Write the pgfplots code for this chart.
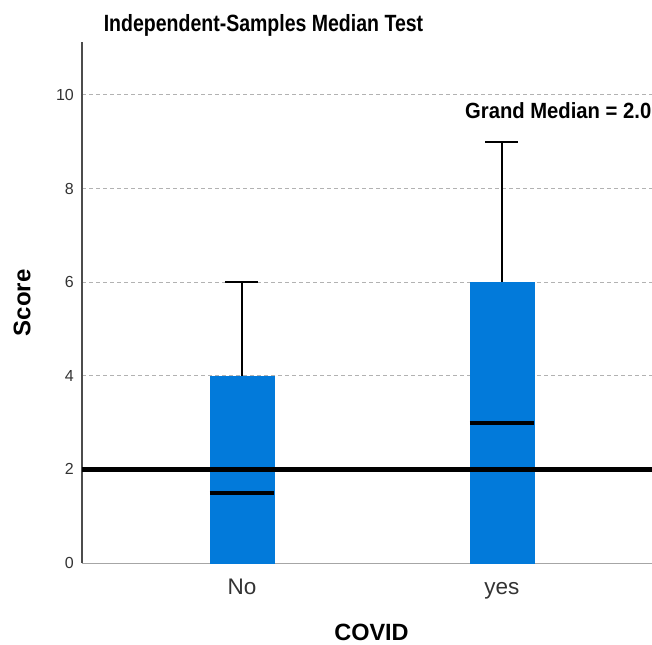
\documentclass[border=0pt]{standalone}
\usepackage{fontspec}
\setmainfont{Liberation Sans}
\newfontfamily\titlefont[FakeStretch=0.83]{Liberation Sans}
\newfontfamily\gmfont[FakeStretch=0.92]{Liberation Sans}
\usepackage{pgfplots}
\pgfplotsset{compat=1.18}
\usepgfplotslibrary{statistics}
\definecolor{spssblue}{RGB}{2,122,218}
\begin{document}
\begin{tikzpicture}
\begin{axis}[
  at={(0,0)}, anchor=south west,
  scale only axis, width=570bp, height=521bp,
  xmin=0.385, xmax=2.577, ymin=0, ymax=11.13,
  axis lines=left, axis line style={-},
  x axis line style={draw=black!35, line width=1bp},
  y axis line style={draw=black!70, line width=1.2bp},
  xtick={1,2}, xticklabels={No,yes},
  ytick={0,2,4,6,8,10},
  major tick length=0pt,
  ymajorgrids,
  major grid style={draw=black!30, line width=1bp, dash pattern=on 4bp off 3bp},
  /pgf/number format/assume math mode=true,
  yticklabel style={font=\fontsize{16bp}{18bp}\selectfont, inner sep=0pt, xshift=-8bp, text=black!80},
  xticklabel style={font=\fontsize{22.5bp}{26bp}\selectfont, inner sep=0pt, anchor=base, yshift=-31bp, text=black!80},
  boxplot/draw direction=y,
]
\addplot[boxplot prepared={draw position=1, lower whisker=0, lower quartile=0, median=1.5, upper quartile=4, upper whisker=6, box extend=0.246, whisker extend=0.127},
  draw=black, line width=2bp,
  boxplot/every box/.style={fill=spssblue, draw=spssblue, line width=0.5bp},
  boxplot/every median/.style={draw=black, line width=4bp}] coordinates {};
\addplot[boxplot prepared={draw position=2, lower whisker=0, lower quartile=0, median=3, upper quartile=6, upper whisker=9, box extend=0.246, whisker extend=0.127},
  draw=black, line width=2bp,
  boxplot/every box/.style={fill=spssblue, draw=spssblue, line width=0.5bp},
  boxplot/every median/.style={draw=black, line width=4bp}] coordinates {};
\addplot[black, line width=5bp] coordinates {(0.385,2) (2.577,2)};
\end{axis}
\node[anchor=base, inner sep=0pt, font=\titlefont\bfseries\fontsize{23.5bp}{28bp}\selectfont] at (181.5bp,531bp) {Independent-Samples Median Test};
\node[anchor=base east, inner sep=0pt, font=\gmfont\bfseries\fontsize{22bp}{26bp}\selectfont] at (569.5bp,444bp) {Grand Median = 2.0};
\node[rotate=90, inner sep=0pt, font=\bfseries\fontsize{24bp}{28bp}\selectfont] at (-60bp,260bp) {Score};
\node[anchor=base, inner sep=0pt, font=\bfseries\fontsize{23.5bp}{28bp}\selectfont] at (289.5bp,-77.5bp) {COVID};
\pgfresetboundingbox
\useasboundingbox (-82bp,-82bp) rectangle (570bp,563bp);
\end{tikzpicture}
\end{document}
